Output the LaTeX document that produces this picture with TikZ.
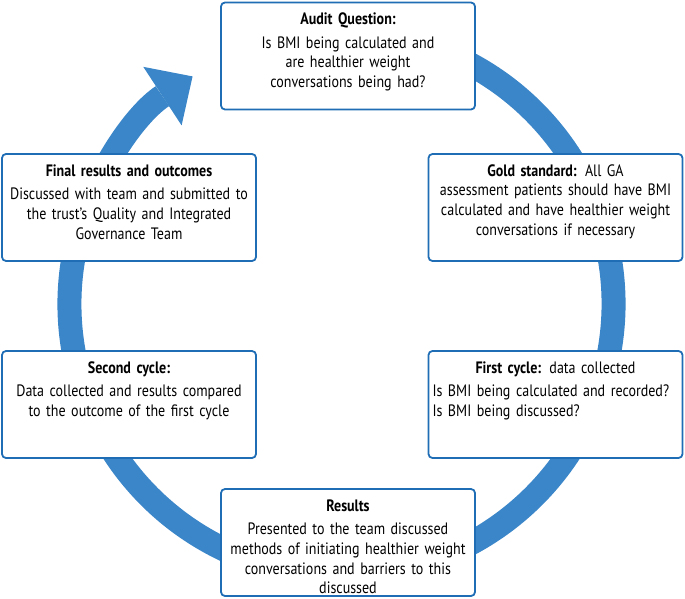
\documentclass[tikz,border=0pt]{standalone}
\usepackage{fontspec}
\setmainfont{PT Sans}[FakeStretch=0.85]
\usetikzlibrary{arrows.meta,positioning}
\definecolor{ringblue}{RGB}{58,134,200}
\definecolor{boxblue}{RGB}{31,110,181}
\tikzset{
  ring/.style={draw=ringblue,line width=24pt,
    -{Triangle[length=36pt,width=70pt,line width=0pt]}},
  stage/.style={draw=boxblue,line width=1.8pt,rounded corners=4pt,fill=white,
    minimum width=254pt,minimum height=107pt,inner sep=0pt},
  stagetext/.style={text width=246pt,align=center,inner sep=0pt,
    font=\fontsize{16.5}{19.7}\selectfont},
}
\begin{document}
\begin{tikzpicture}[x=1pt,y=1pt]
  \useasboundingbox (0,0) rectangle (685,598);
  \coordinate (hub) at (341.5,294);
  \draw[ring] (hub) ++(75:272) arc[start angle=75,end angle=-236.8,radius=272];
      \node[stage] (audit) at (348,542) {};
        \node[stage] (gold) at (555.5,390.5) {};
          \node[stage] (first) at (555.5,193.5) {};
        \node[stage] (results) at (348,55.5) {};
      \node[stage] (second) at (129,193.5) {};
    \node[stage] (final) at (129,390.5) {};
  \node[stagetext,below=11pt of audit.north] (auditText)
    {\textbf{Audit Question:}\\[4pt] Is BMI being calculated and\\ are healthier weight\\ conversations being had?};
  \node[stagetext,below=11pt of gold.north] (goldText)
    {\textbf{Gold standard:} All GA\\ assessment patients should have BMI\\ calculated and have healthier weight\\ conversations if necessary};
  \node[stagetext,align=left,below=11pt of first.north] (firstText)
    {\makebox[246pt]{\textbf{First cycle:} data collected}\\[4pt] Is BMI being calculated and recorded?\\ Is BMI being discussed?};
  \node[stagetext,below=11pt of results.north] (resultsText)
    {\textbf{Results}\\[4pt] Presented to the team discussed\\ methods of initiating healthier weight\\ conversations and barriers to this\\ discussed};
  \node[stagetext,below=11pt of second.north] (secondText)
    {\textbf{Second cycle:}\\[4pt] Data collected and results compared\\ to the outcome of the first cycle};
  \node[stagetext,below=11pt of final.north] (finalText)
    {\textbf{Final results and outcomes}\\[4pt] Discussed with team and submitted to\\ the trust’s Quality and Integrated\\ Governance Team};
\end{tikzpicture}
\end{document}
